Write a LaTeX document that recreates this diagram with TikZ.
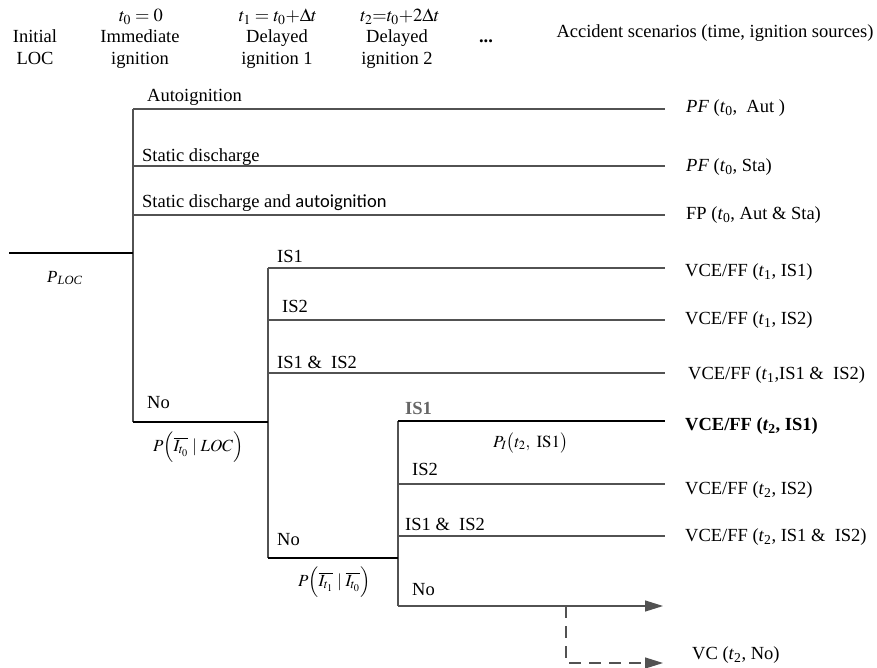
\documentclass[tikz,border=0pt]{standalone}
\usepackage{mathptmx}
\usepackage{fontspec}
\setmainfont{Liberation Serif}
\newfontfamily\calibri{Carlito}
\usetikzlibrary{arrows.meta,positioning}
\newcommand{\tk}[1]{\textit{t}\textsubscript{#1}}
\tikzset{branch/.style={draw=black!68, line width=1.2pt},
  mainbranch/.style={draw=black, line width=2.8pt},
  lbl/.style={anchor=base west, inner sep=0pt},
  scen/.style={anchor=west, inner sep=0pt},
  prob/.style={anchor=west, inner sep=0pt, font=\fontsize{17}{20}\selectfont},
  hdr/.style={anchor=base, inner sep=0pt}}

\begin{document}
\begin{tikzpicture}[x=1pt, y=-1pt, >={Triangle[length=18pt,width=11pt]},
  font=\fontsize{18.5}{21.5}\selectfont]
\useasboundingbox (0,0) rectangle (877,668);
% column headings
\node[hdr] (hIni) at (35,43) {Initial};
\node[hdr] (hLoc) at (35,65) {LOC};
\node[hdr] (hT0) at (141,22) {$t_0 = 0$};
\node[hdr] (hImm) at (140,43) {Immediate};
\node[hdr] (hIgn) at (140,65) {ignition};
\node[hdr] (hT1) at (278,22) {$t_1 = t_0{+}\Delta t$};
\node[hdr] (hDel1) at (277,43) {Delayed};
\node[hdr] (hIgn1) at (277,65) {ignition 1};
\node[hdr] (hT2) at (400,22) {$t_2{=}t_0{+}2\Delta t$};
\node[hdr] (hDel2) at (397,43) {Delayed};
\node[hdr] (hIgn2) at (397,65) {ignition 2};
\node[hdr] (hDots) at (486,43) {\textbf{...}};
\node[hdr] (hAcc) at (715,38) {Accident scenarios (time, ignition sources)};

% fork points
\coordinate (loc) at (9,253);
\coordinate (f0) at (133,253);
\coordinate (f0a) at (133,109);
\coordinate (f0b) at (133,166);
\coordinate (f0c) at (133,215);
\coordinate (f0n) at (133,422);
\coordinate (f1a) at (268,268);
\coordinate (f1b) at (268,320);
\coordinate (f1c) at (268,373);
\coordinate (f1m) at (268,422);
\coordinate (f1n) at (268,558);
\coordinate (f2a) at (398,421);
\coordinate (f2b) at (398,484);
\coordinate (f2c) at (398,536);
\coordinate (f2m) at (398,558);
\coordinate (f2n) at (398,606);
\coordinate (fdash) at (566,606);
% branch ends
\coordinate (eAut) at (665,109);
\coordinate (eSta) at (665,166);
\coordinate (eBoth) at (665,215);
\coordinate (e11) at (665,268);
\coordinate (e12) at (665,320);
\coordinate (e13) at (665,373);
\coordinate (e21) at (665,421);
\coordinate (e22) at (665,484);
\coordinate (e23) at (665,536);
\coordinate (eNo) at (663,606);
\coordinate (eVC) at (663,663);

% tree
\draw[branch] (f0a) -- (f0n);
\draw[branch] (f1a) -- (f1n);
\draw[branch] (f2a) -- (f2n);
\draw[branch] (f0a) -- (eAut);
\draw[branch] (f0b) -- (eSta);
\draw[branch] (f0c) -- (eBoth);
\draw[branch] (f1a) -- (e11);
\draw[branch] (f1b) -- (e12);
\draw[branch] (f1c) -- (e13);
\draw[branch] (f2b) -- (e22);
\draw[branch] (f2c) -- (e23);
\draw[branch, ->] (f2n) -- (eNo);
\draw[branch, dash pattern=on 12pt off 8pt, ->] (fdash) |- (eVC);
\draw[mainbranch] (loc) -- (f0);
\draw[mainbranch] (f0n) -- (f1m);
\draw[mainbranch] (f1n) -- (f2m);
\draw[mainbranch] (f2a) -- (e21);

% branch labels
\node[lbl] (lAut) at (147,102) {Autoignition};
\node[lbl] (lSta) at (142,162) {Static discharge};
\node[lbl] (lBoth) at (142,208) {Static discharge and {\calibri autoignition}};
\node[lbl] (lNo0) at (147,408) {No};
\node[lbl] (lIS1a) at (277,262) {IS1};
\node[lbl] (lIS2a) at (282,312) {IS2};
\node[lbl] (lIS12a) at (277,368) {IS1 \&~ IS2};
\node[lbl] (lNo1) at (277,545) {No};
\node[lbl, text=black!60] (lIS1b) at (405,414) {\textbf{IS1}};
\node[lbl] (lIS2b) at (412,475) {IS2};
\node[lbl] (lIS12b) at (405,530) {IS1 \&~ IS2};
\node[lbl] (lNo2) at (412,595) {No};

% probabilities
\node[prob] (pLoc) at (47,278) {\textit{P}\textsubscript{\textit{LOC}}};
\node[prob] (pI0) at (153,447) {$P\Bigl(\overline{I_{t_0}}\mid LOC\Bigr)$};
\node[prob] (pI1) at (298,582) {$P\Bigl(\overline{I_{t_1}}\mid\overline{I_{t_0}}\Bigr)$};
\node[prob] (pIS1) at (493,443) {$P_I\bigl(t_2,\ \mathrm{IS1}\bigr)$};

% accident scenarios
\node[scen] (sAut) at (686,108) {\textit{PF}~(\tk{0},~ Aut~)};
\node[scen] (sSta) at (686,167) {\textit{PF}~(\tk{0}, Sta)};
\node[scen] (sFP) at (686,215) {FP (\tk{0}, Aut \& Sta)};
\node[scen] (sV11) at (685,272) {VCE/FF (\tk{1}, IS1)};
\node[scen] (sV12) at (685,320) {VCE/FF (\tk{1}, IS2)};
\node[scen] (sV13) at (688,375) {VCE/FF (\tk{1},IS1 \&~ IS2)};
\node[scen] (sV21) at (685,426) {\textbf{VCE/FF (\tk{2}, IS1)}};
\node[scen] (sV22) at (685,490) {VCE/FF (\tk{2}, IS2)};
\node[scen] (sV23) at (685,537) {VCE/FF (\tk{2}, IS1 \&~ IS2)};
\node[scen] (sVC) at (692,655) {VC (\tk{2}, No)};
\end{tikzpicture}
\end{document}
